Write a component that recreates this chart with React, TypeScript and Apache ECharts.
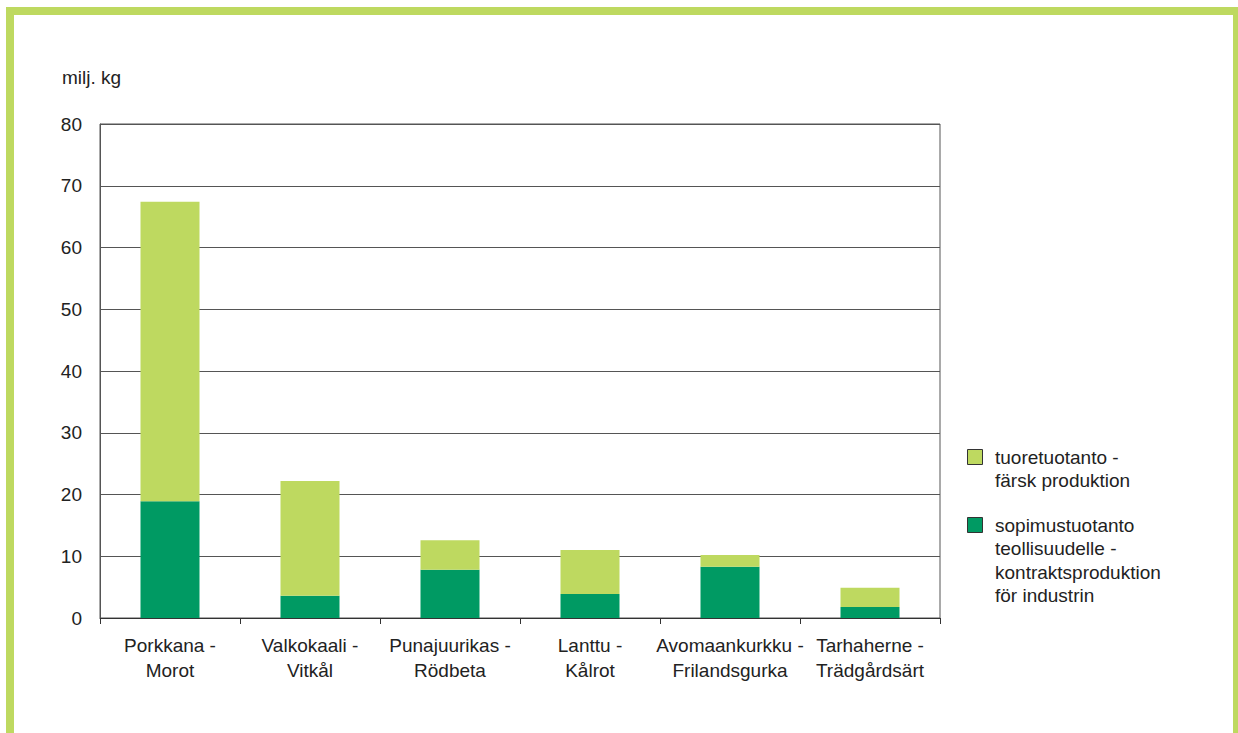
import React, { useEffect, useRef } from "react";
import * as echarts from "echarts";

const categories = [
  "Porkkana -\nMorot",
  "Valkokaali -\nVitkål",
  "Punajuurikas -\nRödbeta",
  "Lanttu -\nKålrot",
  "Avomaankurkku -\nFrilandsgurka",
  "Tarhaherne -\nTrädgårdsärt",
];
const contractValues = [18.9, 3.6, 7.8, 3.9, 8.3, 1.8];
const freshValues = [48.5, 18.6, 4.8, 7.1, 1.9, 3.1];
const seriesNames = ["tuoretuotanto - färsk produktion", "sopimustuotanto teollisuudelle - kontraktsproduktion för industrin"];
const legendLines = [
  ["tuoretuotanto -", "färsk produktion"],
  ["sopimustuotanto", "teollisuudelle -", "kontraktsproduktion", "för industrin"],
];
const yTicks = [0, 10, 20, 30, 40, 50, 60, 70, 80];

const LIGHT = "#BED960";
const DARK = "#009A63";
const FONT = "'Liberation Sans', Arial, sans-serif";
const FS = 19;
const TEXT = "#222222";

export default function App() {
  const ref = useRef<HTMLDivElement>(null);
  useEffect(() => {
    document.body.style.margin = "0";
    const chart = echarts.init(ref.current!, null, { renderer: "svg" });
    const lh = 23.5;
    const legendGraphics: any[] = [];
    const legendTops = [449, 517];
    const legendColors = [LIGHT, DARK];
    legendLines.forEach((lines, i) => {
      legendGraphics.push({
        type: "rect",
        shape: { x: 967.5, y: legendTops[i] + 0.5, width: 15, height: 15 },
        style: { fill: legendColors[i], stroke: "#333", lineWidth: 1 },
      });
      legendGraphics.push({
        type: "text",
        x: 995,
        y: legendTops[i] + 8 - lh / 2,
        style: {
          text: lines.join("\n"),
          font: `${FS}px ${FONT}`,
          fill: TEXT,
          lineHeight: lh,
          verticalAlign: "top",
          align: "left",
        },
      });
    });
    chart.setOption({
      animation: false,
      grid: {
        left: 100,
        right: 298,
        top: 124,
        bottom: 115,
        show: true,
        borderColor: "#555",
        borderWidth: 1,
        containLabel: false,
      },
      xAxis: {
        type: "category",
        data: categories,
        axisLine: { show: true, lineStyle: { color: "#333", width: 1 } },
        axisTick: { show: true, length: 6, lineStyle: { color: "#333" } },
        axisLabel: {
          color: TEXT,
          fontFamily: FONT,
          fontSize: FS,
          lineHeight: 25,
          margin: 15,
          interval: 0,
        },
      },
      yAxis: {
        type: "value",
        min: 0,
        max: 80,
        interval: 10,
        axisLine: { show: true, lineStyle: { color: "#555" } },
        axisTick: { show: false },
        splitLine: { show: true, lineStyle: { color: "#555", width: 1 } },
        axisLabel: {
          color: TEXT,
          fontFamily: FONT,
          fontSize: FS,
          margin: 18,
          formatter: (v: number) => (yTicks.includes(v) ? String(v) : ""),
        },
      },
      series: [
        {
          name: seriesNames[1],
          type: "bar",
          stack: "total",
          data: contractValues,
          barWidth: 59,
          itemStyle: { color: DARK },
        },
        {
          name: seriesNames[0],
          type: "bar",
          stack: "total",
          data: freshValues,
          barWidth: 59,
          itemStyle: { color: LIGHT },
        },
      ],
      graphic: [
        {
          type: "rect",
          shape: { x: 10, y: 11, width: 1227, height: 800 },
          style: { fill: "none", stroke: LIGHT, lineWidth: 8 },
          silent: true,
        },
        {
          type: "text",
          x: 62,
          y: 77,
          style: {
            text: "milj. kg",
            font: `${FS}px ${FONT}`,
            fill: TEXT,
            verticalAlign: "middle",
            align: "left",
          },
        },
        ...legendGraphics,
      ],
    });
    return () => chart.dispose();
  }, []);
  return <div ref={ref} style={{ width: 1238, height: 733 }} />;
}
